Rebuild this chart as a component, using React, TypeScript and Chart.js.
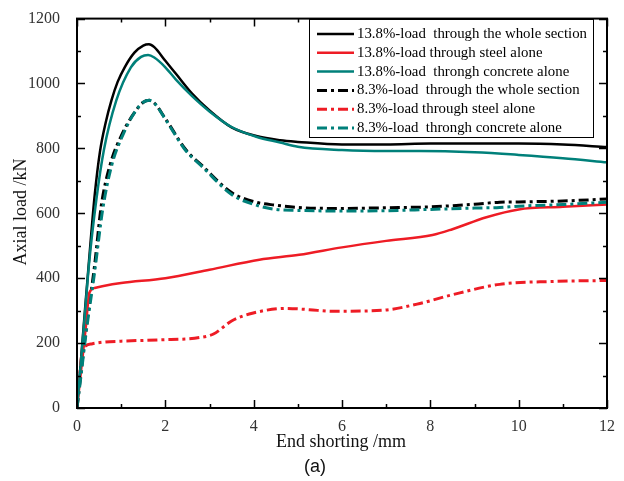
import React, { useEffect, useRef } from "react";
import { Chart, registerables } from "chart.js";

Chart.register(...registerables);

// 13.8% - load through the whole section
const WHOLE13_X = [0, 0.1, 0.2, 0.3, 0.4, 0.52, 0.65, 0.78, 0.92, 1.08, 1.3, 1.5, 1.63, 1.75, 2.0, 2.24, 2.6, 3.0, 3.5, 4.06, 4.6, 5, 6, 7, 8, 9, 10, 11, 12];
const WHOLE13_Y = [0, 165, 335, 500, 655, 790, 880, 948, 1005, 1050, 1095, 1117, 1121, 1112, 1070, 1030, 970, 917, 865, 838, 825, 820, 812, 812, 815, 815, 815, 812, 804];
// 13.8% - load through steel alone
const STEEL13_X = [0, 0.1, 0.2, 0.28, 0.4, 0.6, 1.0, 2.0, 3.0, 4.13, 5.03, 6, 7, 8.05, 8.5, 9.27, 10, 11, 12];
const STEEL13_Y = [0, 125, 250, 355, 370, 376, 385, 400, 426, 457, 472, 495, 515, 533, 551, 588, 612, 620, 627];
// 13.8% - load through concrete alone
const CONC13_X = [0, 0.1, 0.2, 0.27, 0.44, 0.61, 0.89, 1.22, 1.45, 1.61, 1.75, 2.0, 2.24, 2.6, 3.0, 3.5, 4.06, 4.6, 5, 6, 7, 7.76, 9, 10, 11, 12];
const CONC13_Y = [0, 160, 325, 441, 644, 796, 948, 1050, 1082, 1088, 1080, 1050, 1012, 962, 914, 866, 836, 818, 805, 795, 792, 792, 788, 780, 770, 757];
// 8.3% - load through the whole section
const WHOLE8_X = [0, 0.1, 0.2, 0.4, 0.55, 0.74, 1.03, 1.3, 1.5, 1.64, 1.75, 2.0, 2.47, 2.84, 3.5, 4.06, 4.5, 5, 6, 7, 8, 9, 9.57, 10, 11, 12];
const WHOLE8_Y = [0, 120, 237, 441, 624, 745, 847, 910, 942, 948, 940, 892, 795, 746, 664, 634, 625, 618, 615, 617, 620, 628, 634, 635, 638, 644];
// 8.3% - load through steel alone
const STEEL8_X = [0, 0.05, 0.12, 0.2, 0.35, 0.6, 1.0, 1.86, 2.77, 3.09, 3.5, 3.97, 4.74, 5.26, 5.78, 6.9, 7.7, 8.44, 9.57, 10.8, 12];
const STEEL8_Y = [0, 80, 175, 192, 198, 203, 206, 210, 217, 228, 268, 292, 307, 303, 298, 301, 320, 347, 381, 390, 393];
// 8.3% - load through concrete alone
const CONC8_X = [0, 0.1, 0.2, 0.4, 0.58, 0.78, 1.05, 1.3, 1.5, 1.64, 1.75, 2.0, 2.47, 2.84, 3.5, 4.06, 4.5, 5, 6, 7, 8, 9, 9.57, 10, 11, 12];
const CONC8_Y = [0, 110, 225, 420, 610, 745, 845, 910, 942, 948, 940, 890, 792, 743, 658, 625, 612, 609, 607, 608, 612, 616, 618, 622, 627, 634];

const SERIES_LABELS = [
  "13.8%-load  through the whole section",
  "13.8%-load through steel alone",
  "13.8%-load  throngh concrete alone",
  "8.3%-load  through the whole section",
  "8.3%-load through steel alone",
  "8.3%-load  throngh concrete alone",
];

const X_TICK_VALUES = [0, 2, 4, 6, 8, 10, 12];
const Y_TICK_VALUES = [0, 200, 400, 600, 800, 1000, 1200];
const X_TITLE = "End shorting /mm";
const Y_TITLE = "Axial load /kN";
const PANEL_LABEL = "(a)";

const BLACK = "#000000";
const RED = "#ee1c25";
const TEAL = "#00807a";
const DASHDOT = [10, 4, 3, 4];

const pts = (xs: number[], ys: number[]) => xs.map((x, i) => ({ x, y: ys[i] }));

const SERIF = "'Liberation Serif', 'Times New Roman', serif";

const decorPlugin = {
  id: "decor",
  afterDraw(chart: any) {
    const { ctx, chartArea } = chart;
    const { left, right, top, bottom } = chartArea;
    const xs = chart.scales.x;
    const ys = chart.scales.y;
    ctx.save();
    // frame
    ctx.strokeStyle = "#000";
    ctx.lineWidth = 2;
    ctx.setLineDash([]);
    ctx.strokeRect(left, top, right - left, bottom - top);
    // inward ticks
    ctx.lineWidth = 1.5;
    const major = 8;
    const minor = 4;
    for (let v = 0; v <= 12; v += 1) {
      const px = Math.round(xs.getPixelForValue(v)) + 0.5;
      const len = v % 2 === 0 ? major : minor;
      ctx.beginPath();
      ctx.moveTo(px, bottom);
      ctx.lineTo(px, bottom - len);
      ctx.moveTo(px, top);
      ctx.lineTo(px, top + len);
      ctx.stroke();
    }
    for (let v = 0; v <= 1200; v += 100) {
      const py = Math.round(ys.getPixelForValue(v)) + 0.5;
      const len = v % 200 === 0 ? major : minor;
      ctx.beginPath();
      ctx.moveTo(left, py);
      ctx.lineTo(left + len, py);
      ctx.moveTo(right, py);
      ctx.lineTo(right - len, py);
      ctx.stroke();
    }
    // axis titles
    ctx.fillStyle = "#111";
    ctx.textAlign = "center";
    ctx.textBaseline = "middle";
    ctx.font = `18px ${SERIF}`;
    ctx.fillText(X_TITLE, 341, 442);
    ctx.save();
    ctx.translate(21, 212);
    ctx.rotate(-Math.PI / 2);
    ctx.fillText(Y_TITLE, 0, 0);
    ctx.restore();
    ctx.font = "18px 'Liberation Sans', Arial, sans-serif";
    ctx.fillText(PANEL_LABEL, 315, 467);

    // legend
    const bx = 309.5, by = 19.5, bw = 284, bh = 118;
    ctx.fillStyle = "#fff";
    ctx.fillRect(bx, by, bw, bh);
    ctx.lineWidth = 1;
    ctx.strokeStyle = "#000";
    ctx.strokeRect(bx, by, bw, bh);
    const colors = [BLACK, RED, TEAL, BLACK, RED, TEAL];
    ctx.font = `15px ${SERIF}`;
    const refW = ctx.measureText(SERIES_LABELS[0]).width;
    const sx = 230 / refW;
    for (let i = 0; i < 6; i++) {
      const cy = 34 + i * 18.8;
      ctx.beginPath();
      ctx.strokeStyle = colors[i];
      ctx.lineWidth = i < 3 ? 2.5 : 3;
      ctx.setLineDash(i < 3 ? [] : DASHDOT);
      ctx.moveTo(317, cy);
      ctx.lineTo(354, cy);
      ctx.stroke();
      ctx.setLineDash([]);
      ctx.save();
      ctx.translate(357, cy);
      ctx.scale(sx, 1);
      ctx.fillStyle = "#000";
      ctx.textAlign = "left";
      ctx.textBaseline = "middle";
      ctx.fillText(SERIES_LABELS[i], 0, 0);
      ctx.restore();
    }
    ctx.restore();
  },
};

export default function App() {
  const ref = useRef<HTMLCanvasElement | null>(null);
  useEffect(() => {
    document.body.style.margin = "0";
    const canvas = ref.current;
    if (!canvas) return;
    const tickFont = { family: SERIF, size: 16 };
    const chart = new Chart(canvas, {
      type: "line",
      data: {
        datasets: [
          { label: SERIES_LABELS[0], data: pts(WHOLE13_X, WHOLE13_Y), borderColor: BLACK, borderWidth: 2.5, order: 3 },
          { label: SERIES_LABELS[1], data: pts(STEEL13_X, STEEL13_Y), borderColor: RED, borderWidth: 2.5, order: 2 },
          { label: SERIES_LABELS[2], data: pts(CONC13_X, CONC13_Y), borderColor: TEAL, borderWidth: 2.5, order: 1 },
          { label: SERIES_LABELS[3], data: pts(WHOLE8_X, WHOLE8_Y), borderColor: BLACK, borderWidth: 3, borderDash: DASHDOT, order: 3 },
          { label: SERIES_LABELS[4], data: pts(STEEL8_X, STEEL8_Y), borderColor: RED, borderWidth: 3, borderDash: DASHDOT, order: 2 },
          { label: SERIES_LABELS[5], data: pts(CONC8_X, CONC8_Y), borderColor: TEAL, borderWidth: 3, borderDash: DASHDOT, order: 1 },
        ].map((d) => ({ ...d, pointRadius: 0, fill: false, cubicInterpolationMode: "monotone" as const })),
      },
      options: {
        responsive: false,
        animation: false,
        layout: { padding: { top: 14, right: 17, left: 0, bottom: 0 } },
        plugins: { legend: { display: false }, tooltip: { enabled: false } },
        scales: {
          x: {
            type: "linear",
            min: 0,
            max: 12,
            grid: { display: false },
            border: { display: false },
            afterBuildTicks: (s: any) => { s.ticks = X_TICK_VALUES.map((v) => ({ value: v })); },
            ticks: { font: tickFont, color: "#333", padding: 1, maxRotation: 0, autoSkip: false, callback: (v: any) => String(v) },
            afterFit: (s: any) => { s.height = 73; },
          },
          y: {
            type: "linear",
            min: 0,
            max: 1200,
            grid: { display: false },
            border: { display: false },
            afterBuildTicks: (s: any) => { s.ticks = Y_TICK_VALUES.map((v) => ({ value: v })); },
            ticks: { font: tickFont, color: "#333", padding: 9, autoSkip: false, callback: (v: any) => String(v) },
            afterFit: (s: any) => { s.width = 77; },
          },
        },
      },
      plugins: [decorPlugin],
    } as any);
    return () => chart.destroy();
  }, []);
  return (
    <div style={{ width: 624, height: 481, position: "relative", background: "#fff" }}>
      <canvas ref={ref} width={624} height={481} style={{ display: "block", width: 624, height: 481 }} />
    </div>
  );
}
